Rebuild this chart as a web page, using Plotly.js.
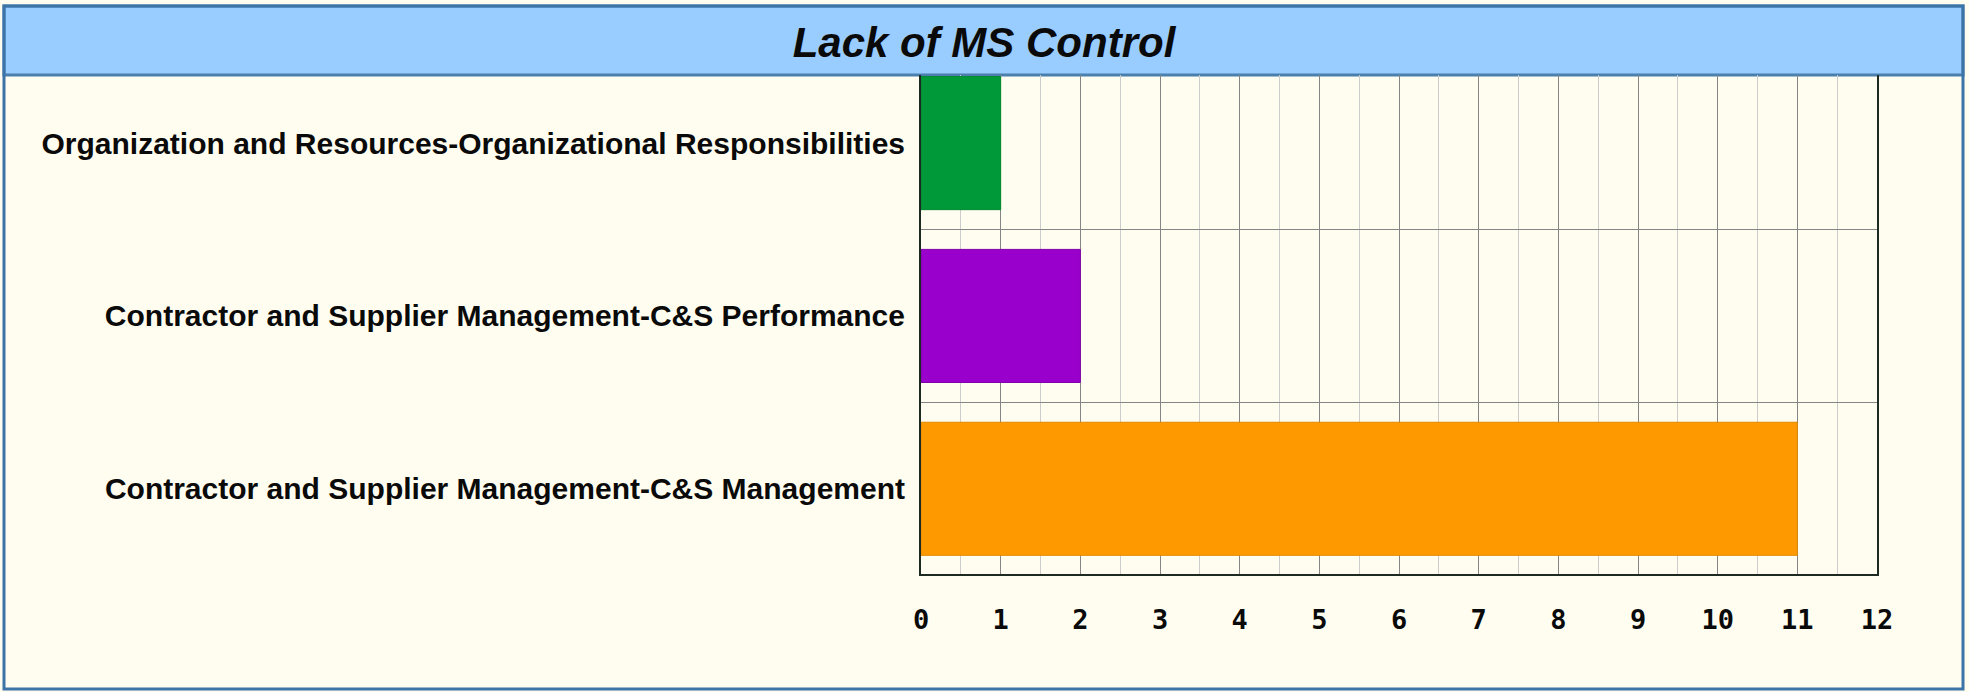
<!DOCTYPE html>
<html>
<head>
<meta charset="utf-8">
<script src="https://cdn.plot.ly/plotly-3.0.1.min.js"></script>
<style>
  html, body { margin: 0; padding: 0; background: #fffdf0; }
  #chart { width: 1969px; height: 692px; }
</style>
</head>
<body>
<div id="chart"></div>
<script>
// ---- data ----
const chartTitle = "Lack of MS Control";
const categories = [
  "Contractor and Supplier Management-C&S Management",
  "Contractor and Supplier Management-C&S Performance",
  "Organization and Resources-Organizational Responsibilities"
];
const counts = [11, 2, 1];
const barColors = ["#ff9900", "#9900cc", "#00993a"];
const barEdgeColors = ["#e08a00", "#8000aa", "#008a30"];
const xTickVals = [0, 1, 2, 3, 4, 5, 6, 7, 8, 9, 10, 11, 12];

// ---- layout geometry (pixels) ----
const W = 1969, H = 692;
const plotL = 921, plotR = 1877, plotT = 75, plotB = 574;
const pw = plotR - plotL, ph = plotB - plotT;
const px = x => (x - plotL) / pw;
const py = y => (plotB - y) / ph;

const trace = {
  type: "bar",
  orientation: "h",
  y: categories,
  x: counts,
  width: 0.77,
  marker: { color: barColors, line: { color: barEdgeColors, width: 1 } },
  hoverinfo: "x+y"
};

const layout = {
  width: W, height: H,
  margin: { l: plotL, r: W - plotR, t: plotT, b: H - plotB, pad: 0 },
  paper_bgcolor: "#fffdf0",
  plot_bgcolor: "#fffdf0",
  showlegend: false,
  bargap: 0.2,
  title: {
    text: chartTitle,
    xref: "container", yref: "container",
    x: 984 / W, y: 1 - 42 / H,
    xanchor: "center", yanchor: "middle",
    font: { family: "Liberation Sans, Arial, sans-serif", size: 42, weight: "bold", style: "italic", color: "#0a0a0a" }
  },
  xaxis: {
    range: [0, 12],
    tickvals: xTickVals,
    ticktext: xTickVals.map(String),
    showgrid: true,
    gridcolor: "#858585",
    gridwidth: 1,
    minor: { dtick: 0.5, tick0: 0, showgrid: true, gridcolor: "#cccccc", gridwidth: 1 },
    zeroline: false,
    showline: true,
    linecolor: "#1c2a22",
    linewidth: 2,
    ticks: "",
    ticklabelstandoff: 21,
    tickfont: { family: "DejaVu Sans Mono, monospace", size: 27, weight: "bold", color: "#0a0a0a" },
    fixedrange: true
  },
  yaxis: {
    type: "category",
    categoryorder: "array",
    categoryarray: categories,
    range: [-0.493, 2.394],
    tickson: "boundaries",
    showgrid: true,
    gridcolor: "#858585",
    gridwidth: 1,
    zeroline: false,
    showline: true,
    mirror: true,
    linecolor: "#1c2a22",
    linewidth: 2,
    ticks: "",
    ticklabelstandoff: 8,
    tickfont: { family: "Liberation Sans, Arial, sans-serif", size: 30, weight: "bold", color: "#0a0a0a" },
    fixedrange: true
  },
  shapes: [
    {
      type: "rect", xref: "paper", yref: "paper", layer: "below",
      x0: px(4), x1: px(1963), y0: py(75), y1: py(6),
      fillcolor: "#99ccff",
      line: { color: "#4a7fae", width: 3 }
    },
    {
      type: "rect", xref: "paper", yref: "paper", layer: "above",
      x0: px(4), x1: px(1963), y0: py(689), y1: py(6),
      fillcolor: "rgba(0,0,0,0)",
      line: { color: "#3d74a8", width: 3 }
    }
  ]
};

Plotly.newPlot("chart", [trace], layout, { displayModeBar: false, staticPlot: true });
</script>
</body>
</html>
